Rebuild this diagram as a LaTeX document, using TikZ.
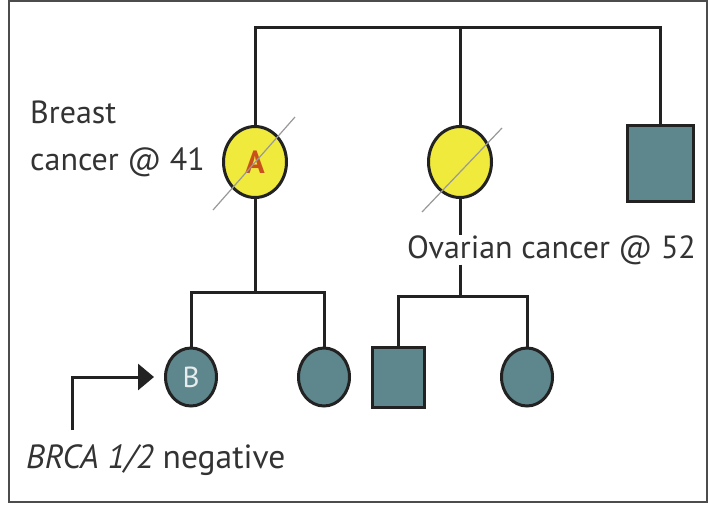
\documentclass[tikz,border=0pt]{standalone}
\usepackage{fontspec}
\setmainfont{PT Sans}
\usetikzlibrary{shapes.geometric,arrows.meta}
\definecolor{ylw}{HTML}{F0EA3C}
\definecolor{teal}{HTML}{5E878D}
\definecolor{ink}{HTML}{222222}
\definecolor{txt}{HTML}{333333}
\definecolor{orng}{HTML}{C9521C}
\tikzset{
  line/.style={draw=ink,line width=3pt},
  fem/.style={ellipse,draw=ink,line width=3pt,inner sep=0pt},
  affected/.style={fem,fill=ylw,minimum width=63pt,minimum height=71pt},
  child/.style={fem,fill=teal,minimum width=51pt,minimum height=58pt},
  male/.style={rectangle,draw=ink,line width=3pt,fill=teal,inner sep=0pt},
  dead/.style={draw=black!40,line width=1.2pt},
  lbl/.style={text=txt,font=\fontsize{32}{47}\selectfont,inner sep=0pt}
}
\begin{document}
\begin{tikzpicture}[x=1pt,y=-1pt]
\useasboundingbox (0,0) rectangle (708,504);
\fill[white] (0,0) rectangle (708,504);
\draw[black!70,line width=2pt] (9,1) rectangle (707,502);
% generation I/II
\node[affected] (A) at (255,162) {\fontsize{32}{32}\selectfont\bfseries\color{orng}A};
\node[affected] (C) at (460,162) {};
\node[male,minimum width=66pt,minimum height=76pt] (S) at (660,163) {};
\coordinate (topbar) at (460,27);
\draw[line] (A.north) |- (topbar) -| (S.north);
\draw[line] (topbar) -- (C.north);
\draw[dead] (213,210) -- (295,117);
\draw[dead] (422,212) -- (502,128);
% children
\node[child] (B) at (191,377) {\fontsize{29}{29}\selectfont\color{teal!15}B};
\node[child] (D) at (324,377) {};
\node[male,minimum width=52pt,minimum height=60pt] (E) at (398,377) {};
\node[child] (F) at (527,377) {};
\coordinate (fam1) at (255,292);
\coordinate (fam2) at (460,296);
\draw[line] (A.south) -- (fam1);
\draw[line] (B.north) |- (fam1) -| (D.north);
\node[lbl,anchor=base west] (ov) at (407,258) {Ovarian cancer @ 52};
\draw[line] (C.south) -- (C.south |- ov.north);
\draw[line] (C.south |- ov.south) -- (fam2);
\draw[line] (E.north) |- (fam2) -| (F.north);
% labels
\node[lbl,anchor=base west,align=left] (br) at (30,170) {Breast\\cancer @ 41};
\node[lbl,anchor=base west,font=\fontsize{33.5}{40}\selectfont] (brca) at (26,468) {\textit{BRCA 1/2} negative};
\coordinate (arrowstart) at (72,430);
\draw[draw=ink,line width=3pt,-{Triangle[length=16pt,width=26pt]},shorten >=10pt] (arrowstart) |- (B.west);
\end{tikzpicture}
\end{document}
